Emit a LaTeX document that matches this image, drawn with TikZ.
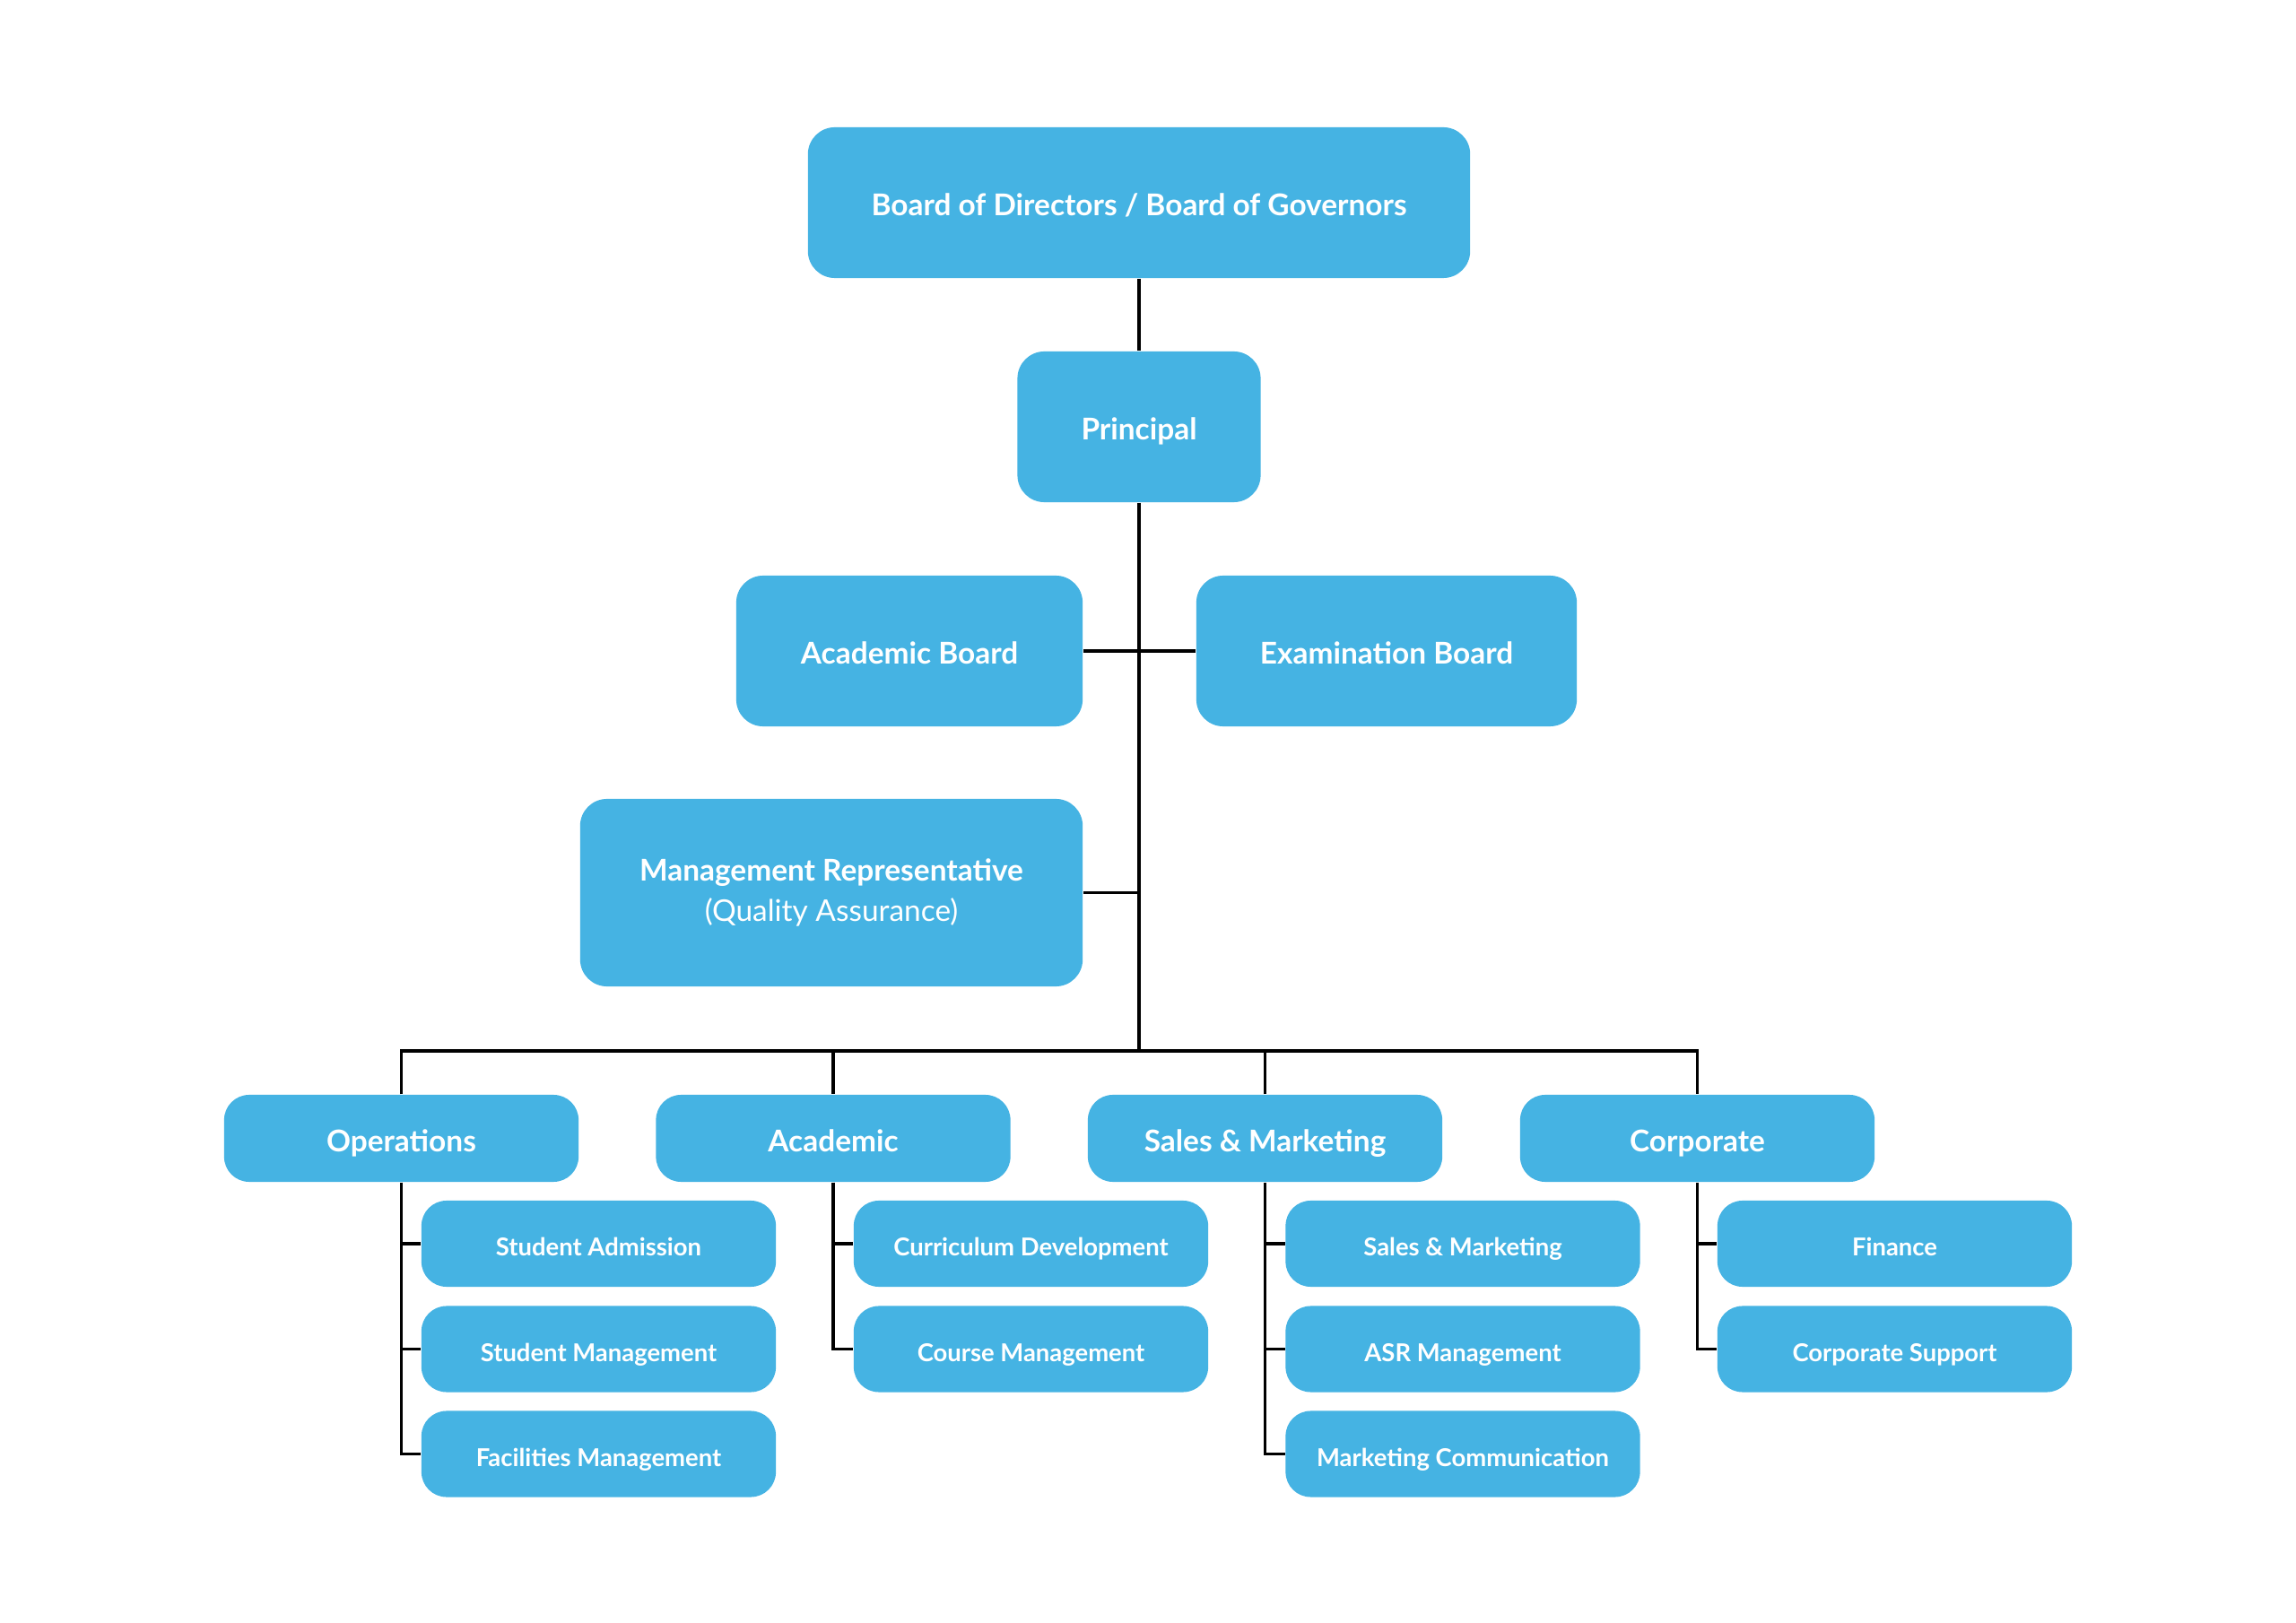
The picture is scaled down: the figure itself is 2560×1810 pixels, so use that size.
\documentclass[tikz,border=0pt]{standalone}
\usepackage{fontspec}
\setmainfont{Lato}
\definecolor{boxblue}{RGB}{69,179,227}
\begin{document}
\begin{tikzpicture}[x=0.01cm,y=-0.01cm,
  box/.style={fill=boxblue, rounded corners=0.3cm, text=white, inner sep=0pt, align=center},
  bigfont/.style={font=\fontsize{9.5}{11.5}\selectfont\bfseries},
  bigbox/.style={box, minimum height=1.68cm, bigfont, text height=2.1ex, text depth=0.45ex},
  midbox/.style={box, minimum width=3.95cm, minimum height=0.97cm, rounded corners=0.28cm, bigfont, text height=2.1ex, text depth=0.45ex},
  subbox/.style={box, minimum width=3.95cm, minimum height=0.96cm, rounded corners=0.28cm, font=\fontsize{7.8}{9}\selectfont\bfseries, text height=2.0ex, text depth=0.45ex},
  conn/.style={draw=black, line width=1pt}]
\useasboundingbox[fill=white] (0,0) rectangle (2560,1810);
% top levels
\node[bigbox, minimum width=7.38cm] (board) at (1270,226) {Board of Directors / Board of Governors};
\node[bigbox, minimum width=2.71cm] (principal) at (1270,476) {Principal};
\node[bigbox, minimum width=3.86cm] (acb) at (1014,726) {Academic Board};
\node[bigbox, minimum width=4.24cm] (exb) at (1546,726) {Examination Board};
\node[box, bigfont, minimum width=5.60cm, minimum height=2.09cm] (mr) at (927,995.5) {Management Representative\\[1.5pt]{\mdseries (Quality Assurance)}};
% departments
\node[midbox] (ops) at (447.5,1269.5) {Operations};
\node[midbox] (aca) at (929,1269.5) {Academic};
\node[midbox] (sm) at (1410.5,1269.5) {Sales \& Marketing};
\node[midbox] (corp) at (1892.5,1269.5) {Corporate};
% children
\node[subbox] (ops1) at (667.5,1387) {Student Admission};
\node[subbox] (ops2) at (667.5,1504.5) {Student Management};
\node[subbox] (ops3) at (667.5,1621.5) {Facilities Management};
\node[subbox] (aca1) at (1149.5,1387) {Curriculum Development};
\node[subbox] (aca2) at (1149.5,1504.5) {Course Management};
\node[subbox] (sm1) at (1631,1387) {Sales \& Marketing};
\node[subbox] (sm2) at (1631,1504.5) {ASR Management};
\node[subbox] (sm3) at (1631,1621.5) {Marketing Communication};
\node[subbox] (corp1) at (2112.5,1387) {Finance};
\node[subbox] (corp2) at (2112.5,1504.5) {Corporate Support};
% connectors
\coordinate (bus) at (1270,1172);
\draw[conn] (board.south) -- (principal.north);
\draw[conn] (principal.south) -- (bus);
\draw[conn] (acb.east) -- (exb.west);
\draw[conn] (mr.east) -- (mr.east -| principal.south);
\draw[conn] (ops.north) |- (bus) -| (corp.north);
\draw[conn] (aca.north) -- (aca.north |- bus);
\draw[conn] (sm.north) -- (sm.north |- bus);
\draw[conn] (ops.south) |- (ops3.west);
\draw[conn] (ops1.west -| ops.south) -- (ops1.west);
\draw[conn] (ops2.west -| ops.south) -- (ops2.west);
\draw[conn] (aca.south) |- (aca2.west);
\draw[conn] (aca1.west -| aca.south) -- (aca1.west);
\draw[conn] (sm.south) |- (sm3.west);
\draw[conn] (sm1.west -| sm.south) -- (sm1.west);
\draw[conn] (sm2.west -| sm.south) -- (sm2.west);
\draw[conn] (corp.south) |- (corp2.west);
\draw[conn] (corp1.west -| corp.south) -- (corp1.west);
\end{tikzpicture}
\end{document}
